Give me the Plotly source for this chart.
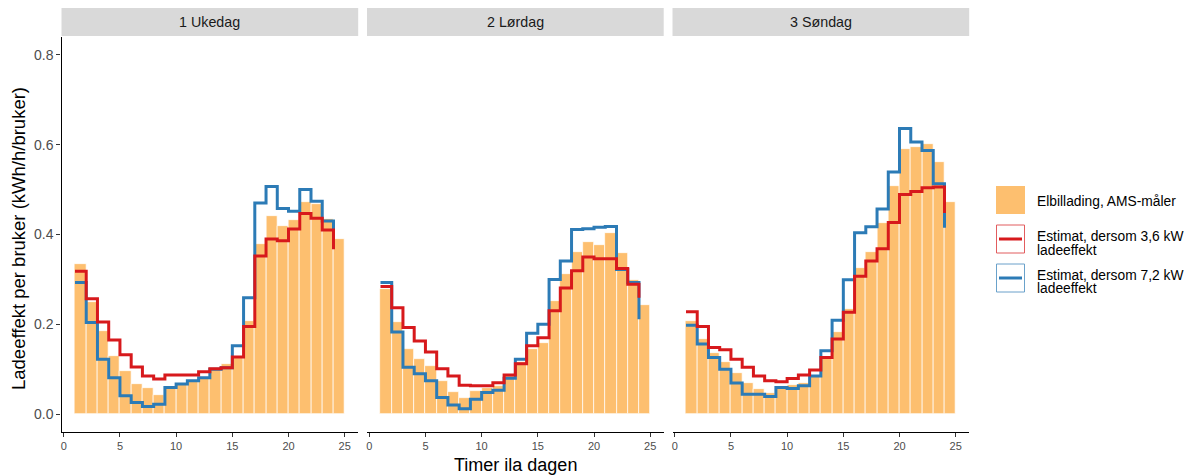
import plotly.graph_objects as go

# ---------------- data ----------------
hours = list(range(1, 25))
days = ["1 Ukedag", "2 Lørdag", "3 Søndag"]
x_ticks = [0, 5, 10, 15, 20, 25]
y_ticks = [0.0, 0.2, 0.4, 0.6, 0.8]
y_ticktext = ["0.0", "0.2", "0.4", "0.6", "0.8"]

ams_ukedag = [0.335, 0.250, 0.185, 0.130, 0.095, 0.066, 0.058, 0.042, 0.058, 0.068, 0.075, 0.082,
              0.100, 0.112, 0.125, 0.207, 0.378, 0.442, 0.419, 0.432, 0.472, 0.468, 0.434, 0.389]
est36_ukedag = [0.318, 0.257, 0.205, 0.165, 0.132, 0.105, 0.085, 0.078, 0.087, 0.087, 0.087, 0.094,
                0.101, 0.103, 0.127, 0.195, 0.352, 0.390, 0.386, 0.412, 0.447, 0.436, 0.410, 0.367]
est72_ukedag = [0.293, 0.204, 0.122, 0.081, 0.041, 0.026, 0.017, 0.022, 0.059, 0.067, 0.074, 0.081,
                0.100, 0.103, 0.152, 0.259, 0.470, 0.507, 0.458, 0.452, 0.500, 0.474, 0.430, 0.400]

ams_lordag = [0.278, 0.205, 0.144, 0.122, 0.107, 0.074, 0.050, 0.035, 0.052, 0.058, 0.063, 0.085,
              0.115, 0.144, 0.159, 0.252, 0.311, 0.361, 0.383, 0.376, 0.404, 0.358, 0.299, 0.244]
est36_lordag = [0.284, 0.237, 0.193, 0.163, 0.138, 0.101, 0.085, 0.064, 0.063, 0.063, 0.070, 0.087,
                0.112, 0.152, 0.170, 0.230, 0.281, 0.319, 0.350, 0.346, 0.346, 0.324, 0.289, 0.259]
est72_lordag = [0.293, 0.183, 0.104, 0.090, 0.074, 0.037, 0.020, 0.012, 0.033, 0.048, 0.053, 0.080,
                0.122, 0.180, 0.200, 0.300, 0.341, 0.411, 0.413, 0.416, 0.418, 0.322, 0.293, 0.211]

ams_sondag = [0.207, 0.167, 0.135, 0.115, 0.091, 0.069, 0.056, 0.046, 0.057, 0.064, 0.070, 0.085,
              0.126, 0.183, 0.235, 0.326, 0.361, 0.426, 0.509, 0.590, 0.596, 0.602, 0.561, 0.472]
est36_sondag = [0.228, 0.195, 0.148, 0.143, 0.122, 0.104, 0.085, 0.074, 0.072, 0.079, 0.087, 0.098,
                0.126, 0.167, 0.227, 0.307, 0.341, 0.368, 0.427, 0.489, 0.496, 0.504, 0.506, 0.448]
est72_sondag = [0.198, 0.156, 0.126, 0.100, 0.069, 0.044, 0.044, 0.039, 0.059, 0.057, 0.063, 0.085,
                0.141, 0.209, 0.299, 0.404, 0.417, 0.457, 0.539, 0.636, 0.606, 0.587, 0.513, 0.415]

ams = [ams_ukedag, ams_lordag, ams_sondag]
est36 = [est36_ukedag, est36_lordag, est36_sondag]
est72 = [est72_ukedag, est72_lordag, est72_sondag]

legend_labels = ["Elbillading, AMS-måler", "Estimat, dersom 3,6 kW", "Estimat, dersom 7,2 kW", "ladeeffekt"]

# ---------------- style ----------------
W, H = 1201, 475
ORANGE = "#FDBF6F"
RED = "#D7191C"
BLUE = "#2C7BB6"
FONT = "Liberation Sans, Arial, sans-serif"
panels_px = [(61.5, 358.2), (367.0, 663.7), (672.5, 969.2)]
top_px, bot_px = 37, 432


def px(xp):
    return xp / W


def py(yp):
    return 1 - yp / H


fig = go.Figure()
shapes = []
annotations = []

for i in range(3):
    sfx = "" if i == 0 else str(i + 1)
    xa, ya = "x" + sfx, "y" + sfx
    fig.add_trace(go.Bar(
        x=hours, y=ams[i], width=1, offset=0,
        marker=dict(color=ORANGE, line=dict(color="white", width=0.7)),
        xaxis=xa, yaxis=ya, showlegend=False, hoverinfo="skip"))
    fig.add_trace(go.Scatter(
        x=hours, y=est72[i], mode="lines",
        line=dict(shape="hv", color=BLUE, width=3),
        xaxis=xa, yaxis=ya, showlegend=False))
    fig.add_trace(go.Scatter(
        x=hours, y=est36[i], mode="lines",
        line=dict(shape="hv", color=RED, width=3),
        xaxis=xa, yaxis=ya, showlegend=False))

    l, r = panels_px[i]
    fig.layout["xaxis" + sfx] = dict(
        domain=[px(l), px(r)], range=[-0.2, 26.2], anchor=ya,
        showline=True, linecolor="black", linewidth=1.3,
        ticks="outside", ticklen=4, tickcolor="#333333", tickwidth=1,
        tickvals=x_ticks, tickfont=dict(size=11, color="#4D4D4D", family=FONT),
        showgrid=False, zeroline=False)
    ydict = dict(
        domain=[py(bot_px), py(top_px)], range=[-0.04, 0.84], anchor=xa,
        showgrid=False, zeroline=False)
    if i == 0:
        ydict.update(showline=True, linecolor="black", linewidth=1.3,
                     ticks="outside", ticklen=4, tickcolor="#333333", tickwidth=1,
                     tickvals=y_ticks, ticktext=y_ticktext,
                     tickfont=dict(size=14, color="#4D4D4D", family=FONT))
    else:
        ydict.update(showline=False, showticklabels=False, ticks="")
    fig.layout["yaxis" + sfx] = ydict

    # strip
    shapes.append(dict(type="rect", xref="paper", yref="paper",
                       x0=px(l), x1=px(r), y0=py(36), y1=py(8),
                       fillcolor="#D9D9D9", line=dict(width=0), layer="below"))
    annotations.append(dict(text=days[i], xref="paper", yref="paper",
                            x=px((l + r) / 2), y=py(22), showarrow=False,
                            xanchor="center", yanchor="middle",
                            font=dict(size=14.3, color="#1A1A1A", family=FONT)))

# legend (drawn)
shapes.append(dict(type="rect", xref="paper", yref="paper",
                   x0=px(996), x1=px(1025), y0=py(214), y1=py(186),
                   fillcolor=ORANGE, line=dict(width=0)))
for (y0, y1, col) in [(225, 253, RED), (264, 292, BLUE)]:
    shapes.append(dict(type="rect", xref="paper", yref="paper",
                       x0=px(996.5), x1=px(1024.5), y0=py(y1), y1=py(y0),
                       fillcolor="white", line=dict(width=1, color=col), opacity=0.7))
    ym = (y0 + y1) / 2
    shapes.append(dict(type="line", xref="paper", yref="paper",
                       x0=px(999), x1=px(1022), y0=py(ym), y1=py(ym),
                       line=dict(width=3, color=col)))

legend_text_pos = [(legend_labels[0], 201), (legend_labels[1], 237), (legend_labels[3], 250),
                   (legend_labels[2], 275), (legend_labels[3], 288)]
for txt, yp in legend_text_pos:
    annotations.append(dict(text=txt, xref="paper", yref="paper", x=px(1035), y=py(yp),
                            showarrow=False, xanchor="left", yanchor="middle",
                            font=dict(size=13.8, color="#000000", family=FONT)))

# axis titles
annotations.append(dict(text="Ladeeffekt per bruker (kWh/h/bruker)", xref="paper", yref="paper",
                        x=px(18), y=py(239), showarrow=False, textangle=-90,
                        xanchor="center", yanchor="middle",
                        font=dict(size=18.5, color="#000000", family=FONT)))
annotations.append(dict(text="Timer ila dagen", xref="paper", yref="paper",
                        x=px(515), y=py(465), showarrow=False,
                        xanchor="center", yanchor="middle",
                        font=dict(size=18, color="#000000", family=FONT)))

fig.update_layout(
    width=W, height=H, margin=dict(l=0, r=0, t=0, b=0),
    paper_bgcolor="white", plot_bgcolor="white",
    shapes=shapes, annotations=annotations, showlegend=False,
    bargap=0, font=dict(family=FONT))

fig.write_html("out.html")
